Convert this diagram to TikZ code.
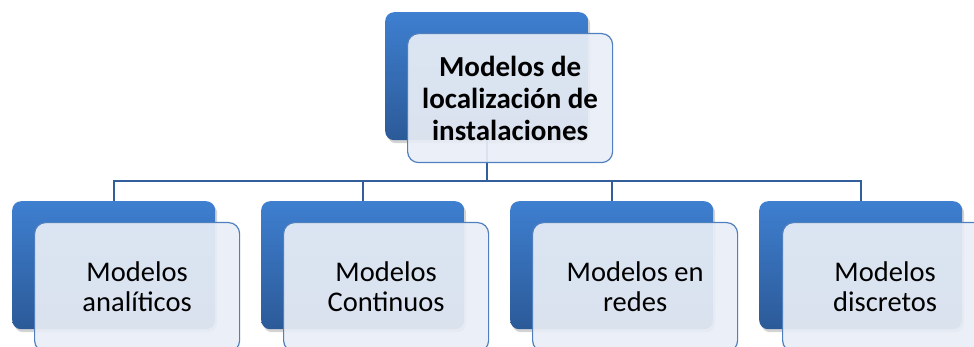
\documentclass[tikz,border=0pt]{standalone}
\usepackage{fontspec}
\setmainfont{Carlito}
\usetikzlibrary{positioning,shadows}
\definecolor{azulclaro}{HTML}{3E7FD0}
\definecolor{azuloscuro}{HTML}{2C5A98}
\definecolor{borde}{HTML}{4F7FBF}
\definecolor{relleno}{HTML}{E9EEF6}
\definecolor{linea}{HTML}{325E9C}
\tikzset{
  fondo/.style={rounded corners=9pt, top color=azulclaro, bottom color=azuloscuro,
    draw=none, inner sep=0pt, minimum width=203pt, minimum height=128pt,
    drop shadow={shadow xshift=2pt, shadow yshift=-3pt, opacity=0.35}},
  tarjeta/.style={rounded corners=11pt, fill=relleno, fill opacity=0.92, text opacity=1,
    draw=borde, line width=1.2pt, inner sep=0pt, minimum width=205pt,
    minimum height=129pt, align=center},
  rama/.style={draw=linea, line width=1.6pt},
  titulo/.style={font=\fontsize{29}{32}\selectfont\bfseries},
  hoja/.style={font=\fontsize{28.5}{30}\selectfont}
}
\newcommand{\nivel}{181}
\begin{document}
\begin{tikzpicture}[x=1pt, y=-1pt]
\useasboundingbox (0,0) rectangle (974,347);

% fondos azules
\node[fondo, anchor=north west] (raiz) at (385,12) {};
\node[fondo, anchor=north west] (analiticos) at (12,201) {};
\node[fondo, anchor=north west] (continuos) at (261,201) {};
\node[fondo, anchor=north west] (redes) at (510,201) {};
\node[fondo, anchor=north west] (discretos) at (759,201) {};

% ramas
\coordinate (codo) at (raiz.south |- 0,\nivel);
\draw[rama] (raiz.south) -- (codo);
\foreach \hijo in {analiticos,continuos,redes,discretos}
  \draw[rama] (codo) -| (\hijo.north);

% tarjetas con texto
\node[tarjeta, titulo, anchor=north west] (raizTxt) at (407,33)
  {Modelos de\\localización de\\instalaciones};
\node[tarjeta, hoja, anchor=north west] (analiticosTxt) at (34,222)
  {Modelos\\analíticos};
\node[tarjeta, hoja, anchor=north west] (continuosTxt) at (283,222)
  {Modelos\\Continuos};
\node[tarjeta, hoja, anchor=north west] (redesTxt) at (532,222)
  {Modelos en\\redes};
\node[tarjeta, hoja, anchor=north west] (discretosTxt) at (782,222)
  {Modelos\\discretos};

\end{tikzpicture}
\end{document}
